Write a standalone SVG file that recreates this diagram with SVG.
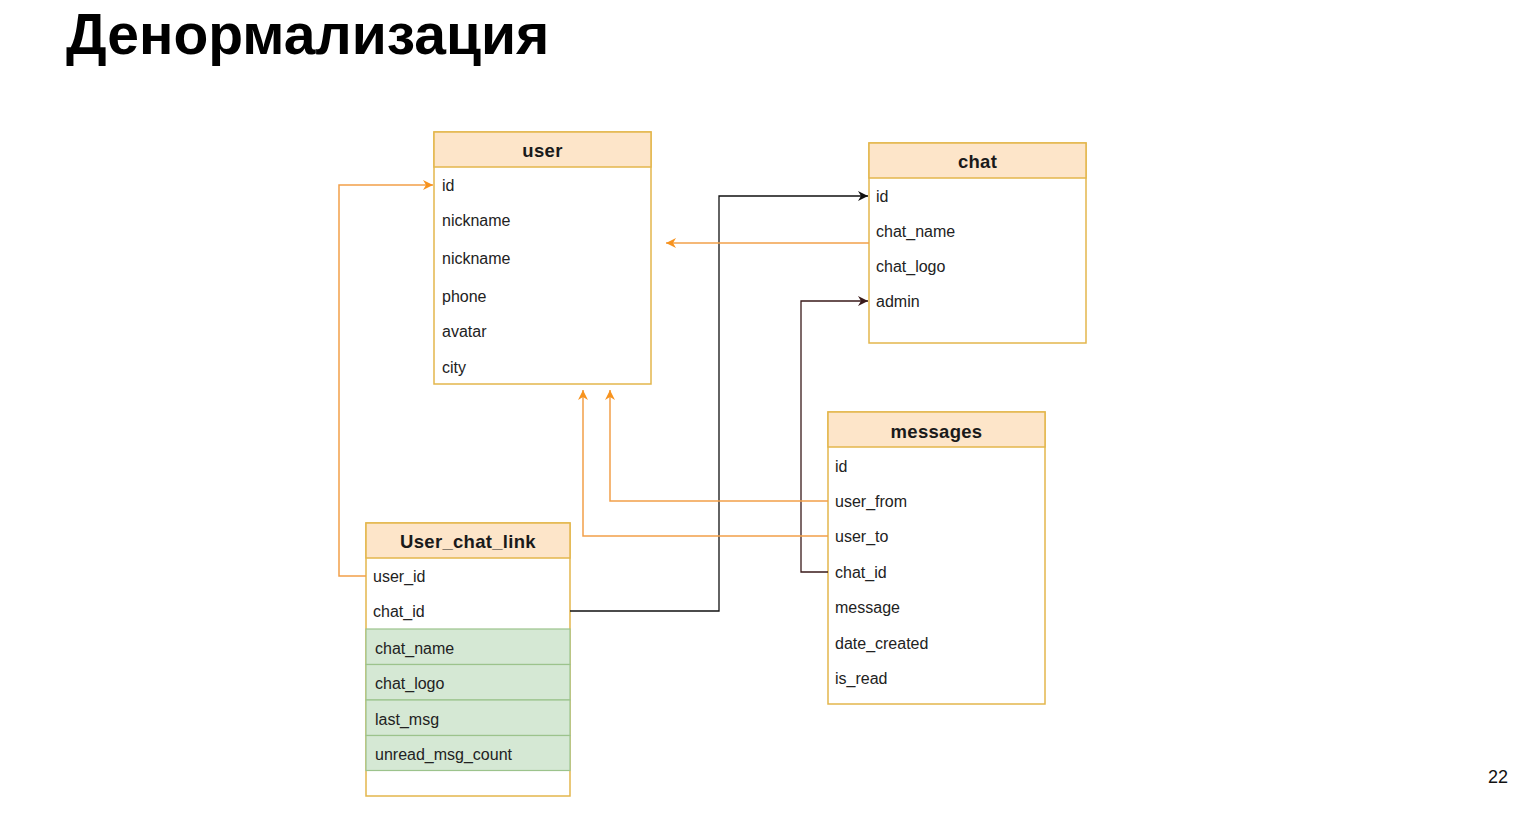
<svg xmlns="http://www.w3.org/2000/svg" width="1536" height="825" viewBox="0 0 1536 825">
<defs>
<marker id="ao" viewBox="0 0 10 10" refX="10" refY="5" markerWidth="10" markerHeight="10" markerUnits="userSpaceOnUse" orient="auto"><path d="M0,0 L10,5 L0,10 L3,5 Z" fill="#f7931e"/></marker>
<marker id="ab" viewBox="0 0 10 10" refX="10" refY="5" markerWidth="10" markerHeight="10" markerUnits="userSpaceOnUse" orient="auto"><path d="M0,0 L10,5 L0,10 L3,5 Z" fill="#111"/></marker>
<marker id="ad" viewBox="0 0 10 10" refX="10" refY="5" markerWidth="10" markerHeight="10" markerUnits="userSpaceOnUse" orient="auto"><path d="M0,0 L10,5 L0,10 L3,5 Z" fill="#3a1a1a"/></marker>
</defs>
<style>
.hd{fill:#fde5c9;stroke:#e3b64c;stroke-width:1.5}
.bd{fill:#fff;stroke:#e3b64c;stroke-width:1.5}
.gr{fill:#d5e8d4;stroke:#9cc38c;stroke-width:1.2}
.ht{font-family:"Liberation Sans",Arial,sans-serif;font-weight:bold;font-size:18.5px;letter-spacing:0.3px;fill:#1a1a1a;text-anchor:middle}
.rt{font-family:"Liberation Sans",Arial,sans-serif;font-size:16px;fill:#222}
.co{fill:none;stroke:#f2a04a;stroke-width:1.5}
.cb{fill:none;stroke:#111;stroke-width:1.3}
.cd{fill:none;stroke:#3a1a1a;stroke-width:1.3}
</style>
<rect width="1536" height="825" fill="#fff"/>
<text x="66" y="54" font-family="Liberation Sans,Arial,sans-serif" font-weight="bold" font-size="57" fill="#000">Денормализация</text>
<text x="1498" y="783" font-family="Liberation Sans,Arial,sans-serif" font-size="18" fill="#111" text-anchor="middle">22</text>

<g id="user">
<rect class="bd" x="434" y="132" width="217" height="252"/>
<rect class="hd" x="434" y="132" width="217" height="35"/>
<text class="ht" x="542.5" y="157">user</text>
<text class="rt" x="442" y="191">id</text>
<text class="rt" x="442" y="226">nickname</text>
<text class="rt" x="442" y="264">nickname</text>
<text class="rt" x="442" y="302">phone</text>
<text class="rt" x="442" y="337">avatar</text>
<text class="rt" x="442" y="373">city</text>
</g>

<g id="chat">
<rect class="bd" x="869" y="143" width="217" height="200"/>
<rect class="hd" x="869" y="143" width="217" height="35"/>
<text class="ht" x="977.5" y="168">chat</text>
<text class="rt" x="876" y="202">id</text>
<text class="rt" x="876" y="237">chat_name</text>
<text class="rt" x="876" y="272">chat_logo</text>
<text class="rt" x="876" y="307">admin</text>
</g>

<g id="messages">
<rect class="bd" x="828" y="412" width="217" height="292"/>
<rect class="hd" x="828" y="412" width="217" height="35"/>
<text class="ht" x="936.5" y="438">messages</text>
<text class="rt" x="835" y="472">id</text>
<text class="rt" x="835" y="507">user_from</text>
<text class="rt" x="835" y="542">user_to</text>
<text class="rt" x="835" y="578">chat_id</text>
<text class="rt" x="835" y="613">message</text>
<text class="rt" x="835" y="649">date_created</text>
<text class="rt" x="835" y="684">is_read</text>
</g>

<g id="user_chat_link">
<rect class="bd" x="366" y="523" width="204" height="273"/>
<rect class="gr" x="366" y="629" width="204" height="35.5"/>
<rect class="gr" x="366" y="664.5" width="204" height="35.5"/>
<rect class="gr" x="366" y="700" width="204" height="35.5"/>
<rect class="gr" x="366" y="735.5" width="204" height="35"/>
<rect class="hd" x="366" y="523" width="204" height="35"/>
<text class="ht" x="468" y="548">User_chat_link</text>
<text class="rt" x="373" y="582">user_id</text>
<text class="rt" x="373" y="617">chat_id</text>
<text class="rt" x="375" y="654">chat_name</text>
<text class="rt" x="375" y="689">chat_logo</text>
<text class="rt" x="375" y="725">last_msg</text>
<text class="rt" x="375" y="760">unread_msg_count</text>
</g>

<g id="connectors">
<path class="co" d="M366,576 H339 V185 H433" marker-end="url(#ao)"/>
<path class="cb" d="M570,611 H719 V196 H868" marker-end="url(#ab)"/>
<path class="cd" d="M828,572 H801 V301 H868" marker-end="url(#ad)"/>
<path class="co" d="M869,243 H666" marker-end="url(#ao)"/>
<path class="co" d="M828,501 H610 V390" marker-end="url(#ao)"/>
<path class="co" d="M828,536 H583 V390" marker-end="url(#ao)"/>
</g>
</svg>
